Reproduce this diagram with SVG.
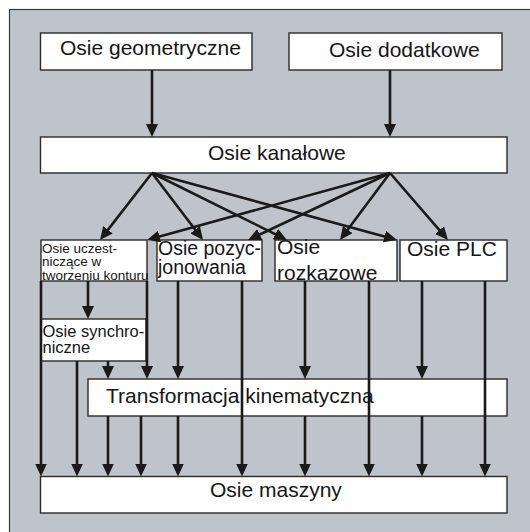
<svg xmlns="http://www.w3.org/2000/svg" width="530" height="532" viewBox="0 0 530 532">
  <style>
    .box { fill: #ffffff; stroke: #2a2a2a; stroke-width: 1.4; }
    .lbl { font-family: "Liberation Sans", Arial, sans-serif; fill: #151515; }
    .big { font-size: 21px; }
    .mid { font-size: 19.5px; }
    .syn { font-size: 16.5px; }
    .sml { font-size: 13.5px; }
    .wire { stroke: #1a1a1a; stroke-width: 2.6; fill: none; marker-end: url(#head); }
    .wire-plain { stroke: #1a1a1a; stroke-width: 2.6; fill: none; }
  </style>
  <defs>
    <marker id="head" markerUnits="userSpaceOnUse" markerWidth="13" markerHeight="12" viewBox="0 0 13 12" refX="6.5" refY="6" orient="auto">
      <path d="M0,0 L13,6 L0,12 z" fill="#1a1a1a"/>
    </marker>
  </defs>

  <!-- panel -->
  <rect x="9.5" y="9.5" width="540" height="540" fill="#bfc4cb" stroke="#3a3a3a" stroke-width="1.2"/>

  <!-- nodes -->
  <g id="node-geometryczne">
    <rect class="box" x="40.5" y="33" width="211.5" height="37"/>
    <text class="lbl big" x="60" y="55">Osie geometryczne</text>
  </g>
  <g id="node-dodatkowe">
    <rect class="box" x="289" y="33" width="213" height="37"/>
    <text class="lbl big" x="329" y="57">Osie dodatkowe</text>
  </g>
  <g id="node-kanalowe">
    <rect class="box" x="40.5" y="137" width="466.5" height="36"/>
    <text class="lbl big" x="208" y="160">Osie kanałowe</text>
  </g>
  <g id="node-konturowe">
    <rect class="box" x="41" y="240" width="106" height="41"/>
    <text class="lbl sml" x="42" y="253">Osie uczest-</text>
    <text class="lbl sml" x="42" y="266">niczące w</text>
    <text class="lbl sml" x="42" y="279.5">tworzeniu konturu</text>
  </g>
  <g id="node-pozycjonowania">
    <rect class="box" x="157" y="240" width="105" height="41"/>
    <text class="lbl mid" x="158" y="254.5">Osie pozyc-</text>
    <text class="lbl mid" x="158" y="273.5">jonowania</text>
  </g>
  <g id="node-rozkazowe">
    <rect class="box" x="275" y="240" width="122" height="41"/>
    <text class="lbl big" x="277" y="254">Osie</text>
    <text class="lbl big" x="277" y="279.5">rozkazowe</text>
  </g>
  <g id="node-plc">
    <rect class="box" x="400" y="240" width="107" height="41"/>
    <text class="lbl big" x="407" y="256">Osie PLC</text>
  </g>
  <g id="node-synchroniczne">
    <rect class="box" x="41" y="319" width="105" height="42"/>
    <text class="lbl syn" x="42.5" y="337">Osie synchro-</text>
    <text class="lbl syn" x="42.5" y="353">niczne</text>
  </g>
  <g id="node-transformacja">
    <rect class="box" x="88" y="379" width="419" height="37"/>
    <text class="lbl big" x="106" y="403">Transformacja kinematyczna</text>
  </g>
  <g id="node-maszyny">
    <rect class="box" x="40.5" y="476.5" width="466.5" height="36.5"/>
    <text class="lbl big" x="210" y="497">Osie maszyny</text>
  </g>

  <!-- connectors -->
  <g id="connectors">
    <!-- sources into channel axes -->
    <line class="wire" x1="152" y1="70" x2="152" y2="130.5"/>
    <line class="wire" x1="390" y1="70" x2="390" y2="130.5"/>

    <!-- fan-out from the left point of the channel box -->
    <line class="wire" x1="152" y1="173" x2="103.99" y2="234.87"/>
    <line class="wire" x1="152" y1="173" x2="199.06" y2="234.83"/>
    <line class="wire" x1="152" y1="173" x2="281.18" y2="237.11"/>
    <line class="wire" x1="152" y1="173" x2="390.73" y2="238.29"/>

    <!-- fan-out from the right point of the channel box -->
    <line class="wire" x1="390" y1="173" x2="153.27" y2="238.27"/>
    <line class="wire" x1="390" y1="173" x2="253.88" y2="237.23"/>
    <line class="wire" x1="390" y1="173" x2="343.89" y2="234.79"/>
    <line class="wire" x1="390" y1="173" x2="443.75" y2="235.09"/>

    <!-- contour axes -->
    <line class="wire" x1="41" y1="281" x2="41" y2="470"/>
    <line class="wire" x1="88" y1="281" x2="88" y2="312.5"/>
    <line class="wire" x1="147" y1="281" x2="147" y2="372.5"/>

    <!-- synchronous axes -->
    <line class="wire" x1="77" y1="361" x2="77" y2="470"/>
    <line class="wire" x1="108" y1="361" x2="108" y2="372.5"/>

    <!-- positioning axes -->
    <line class="wire" x1="178" y1="281" x2="178" y2="372.5"/>
    <line class="wire" x1="242" y1="281" x2="242" y2="470"/>

    <!-- command axes -->
    <line class="wire" x1="305" y1="281" x2="305" y2="372.5"/>
    <line class="wire" x1="369" y1="281" x2="369" y2="470"/>

    <!-- PLC axes -->
    <line class="wire" x1="422" y1="281" x2="422" y2="372.5"/>
    <line class="wire" x1="485" y1="281" x2="485" y2="470"/>

    <!-- kinematic transformation into machine axes -->
    <line class="wire" x1="108" y1="416" x2="108" y2="470"/>
    <line class="wire" x1="141" y1="416" x2="141" y2="470"/>
    <line class="wire" x1="178" y1="416" x2="178" y2="470"/>
    <line class="wire" x1="305" y1="416" x2="305" y2="470"/>
    <line class="wire" x1="422" y1="416" x2="422" y2="470"/>
  </g>
</svg>
